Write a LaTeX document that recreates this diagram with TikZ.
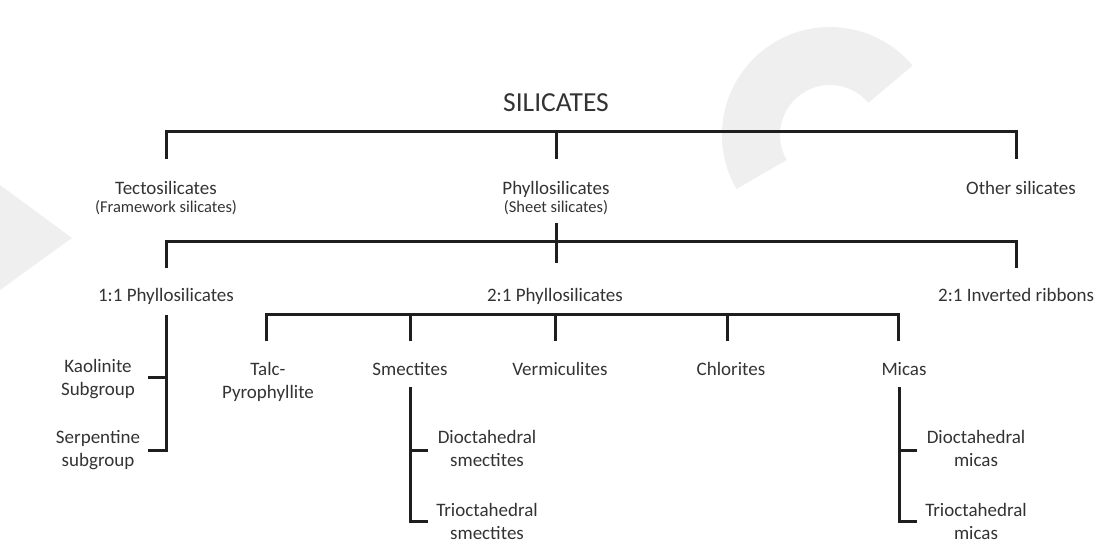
\documentclass[tikz,border=0pt]{standalone}
\usepackage{fontspec}
\setmainfont{Carlito}
\definecolor{txt}{HTML}{333333}
\definecolor{ln}{HTML}{1E1E1E}
\definecolor{wm}{HTML}{EFEFEF}
\begin{document}
\begin{tikzpicture}[x=1pt,y=-1pt,
  lbl/.style={text=txt,font=\fontsize{19}{23}\selectfont,align=center,inner sep=0pt,anchor=base},
  sub/.style={text=txt,font=\fontsize{16.5}{19}\selectfont,align=center,inner sep=0pt,anchor=base},
  ttl/.style={text=txt,font=\fontsize{27.5}{32}\selectfont,inner sep=0pt,anchor=base},
  bar/.style={draw=ln,line width=3pt,line join=miter}]
\useasboundingbox (0,0) rectangle (1096,556);
% watermark
\fill[wm] (912.7,65.6) arc[start angle=-40,end angle=-210,radius=108]
  -- ({830+50*cos(210)},{135-50*sin(210)}) arc[start angle=-210,end angle=-40,radius=50] -- cycle;
\fill[wm] (0,185) -- (72,238) -- (0,290) -- cycle;
% nodes (base anchor = baseline of last line)
\node[ttl] (sil) at (556,112) {SILICATES};
\node[lbl] (tecto) at (166,195) {Tectosilicates};
\node[sub] (tectos) at (166,213) {(Framework silicates)};
\node[lbl] (phyl) at (556,195) {Phyllosilicates};
\node[sub] (phyls) at (556,213) {(Sheet silicates)};
\node[lbl] (other) at (1021,195) {Other silicates};
\node[lbl] (p11) at (166,302) {1:1 Phyllosilicates};
\node[lbl] (p21) at (555,302) {2:1 Phyllosilicates};
\node[lbl,anchor=base west] (inv) at (938,302) {2:1 Inverted ribbons};
\node[lbl] (kao) at (98,395) {Kaolinite\\Subgroup};
\node[lbl] (ser) at (98,466) {Serpentine\\subgroup};
\node[lbl] (talc) at (268,398) {Talc-\\Pyrophyllite};
\node[lbl] (sme) at (410,375) {Smectites};
\node[lbl] (ver) at (560,375) {Vermiculites};
\node[lbl] (chl) at (731,375) {Chlorites};
\node[lbl] (mic) at (904,375) {Micas};
\node[lbl] (dis) at (487,466) {Dioctahedral\\smectites};
\node[lbl] (tris) at (487,539) {Trioctahedral\\smectites};
\node[lbl] (dim) at (976,466) {Dioctahedral\\micas};
\node[lbl] (trim) at (976,539) {Trioctahedral\\micas};
% junction coordinates
\coordinate (a1) at (166,159); \coordinate (a2) at (556,159); \coordinate (a3) at (1016,159);
\coordinate (ta) at (556,132);
\coordinate (b0) at (556,223); \coordinate (bm) at (556,263);
\coordinate (b1) at (166,268); \coordinate (b3) at (1016,268); \coordinate (tb) at (556,242);
\coordinate (c1) at (266,341); \coordinate (c2) at (410,341); \coordinate (c3) at (555,341);
\coordinate (c4) at (727,341); \coordinate (c5) at (898,341); \coordinate (tc) at (555,315);
\coordinate (k0) at (166,315); \coordinate (k1) at (148,377); \coordinate (k2) at (148,450);
\coordinate (s0) at (410,387); \coordinate (s1) at (428,450); \coordinate (s2) at (428,521);
\coordinate (m0) at (899,387); \coordinate (m1) at (917,450); \coordinate (m2) at (917,521);
% connectors
\draw[bar] (a1) |- (ta) -| (a3);
\draw[bar] (ta) -- (a2);
\draw[bar] (b0) -- (bm);
\draw[bar] (b1) |- (tb) -| (b3);
\draw[bar] (c1) |- (tc) -| (c5);
\draw[bar] (c2 |- tc) -- (c2);
\draw[bar] (tc) -- (c3);
\draw[bar] (c4 |- tc) -- (c4);
\draw[bar] (k0) |- (k2);
\draw[bar] (k1) -| (k0);
\draw[bar] (s0) |- (s2);
\draw[bar] (s0 |- s1) -- (s1);
\draw[bar] (m0) |- (m2);
\draw[bar] (m0 |- m1) -- (m1);
\end{tikzpicture}
\end{document}
